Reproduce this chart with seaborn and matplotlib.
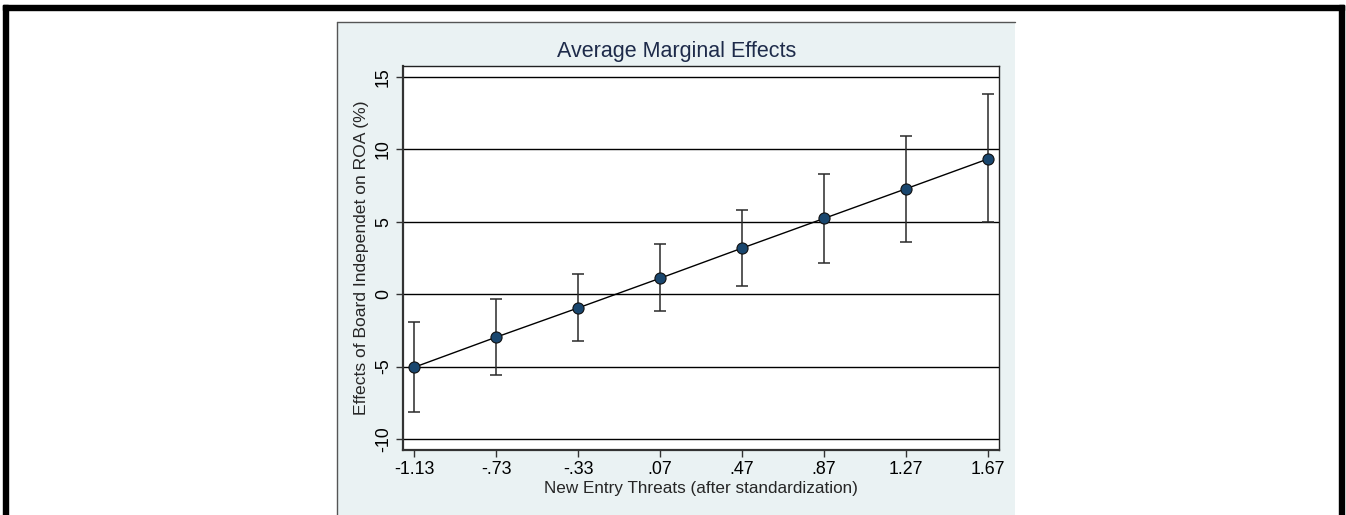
import seaborn as sns
import pandas as pd
import matplotlib.pyplot as plt
from matplotlib.patches import Rectangle
from matplotlib.lines import Line2D

# values
threat_levels = [-1.13, -0.73, -0.33, 0.07, 0.47, 0.87, 1.27, 1.67]
tick_labels = ["-1.13", "-.73", "-.33", ".07", ".47", ".87", "1.27", "1.67"]
effects = [-5.05, -2.97, -0.95, 1.10, 3.18, 5.23, 7.28, 9.34]
ci_low = [-8.14, -5.60, -3.23, -1.18, 0.60, 2.14, 3.60, 5.00]
ci_high = [-1.94, -0.35, 1.38, 3.44, 5.81, 8.32, 10.95, 13.80]
y_ticks = [-10, -5, 0, 5, 10, 15]

df = pd.DataFrame({"threat": threat_levels, "effect": effects,
                   "lo": ci_low, "hi": ci_high})

sns.set_style("white")
plt.rcParams["font.family"] = ["Liberation Sans", "DejaVu Sans"]

W, H = 1346, 515
fig = plt.figure(figsize=(W / 100, H / 100), dpi=100)
fig.patch.set_facecolor("white")

# outer black frame (top, left, right)
fig.add_artist(Rectangle((3 / W, 1 - 10 / H), (1344 - 3) / W, 5 / H,
                         transform=fig.transFigure, color="black", zorder=0))
fig.add_artist(Rectangle((3 / W, 0), 5 / W, 1 - 5 / H,
                         transform=fig.transFigure, color="black", zorder=0))
fig.add_artist(Rectangle((1339 / W, 0), 5 / W, 1 - 5 / H,
                         transform=fig.transFigure, color="black", zorder=0))

# light blue graph region
fig.add_artist(Rectangle((337 / W, 0), (1015 - 337) / W, 1 - 22 / H,
                         transform=fig.transFigure, facecolor="#eaf2f3",
                         edgecolor="none", zorder=0))
fig.add_artist(Line2D([337 / W, 1015 / W], [1 - 22 / H, 1 - 22 / H],
                      transform=fig.transFigure, color="#555555", lw=1))
fig.add_artist(Line2D([337 / W, 337 / W], [0, 1 - 22 / H],
                      transform=fig.transFigure, color="#555555", lw=1))

ax = fig.add_axes([403 / W, 1 - 450 / H, (999 - 403) / W, (450 - 66) / H])
ax.set_facecolor("white")

for yv in y_ticks:
    ax.axhline(yv, color="black", lw=1, zorder=1)

ax.errorbar(df["threat"], df["effect"],
            yerr=[df["effect"] - df["lo"], df["hi"] - df["effect"]],
            fmt="none", ecolor="#2a2a2a", elinewidth=1.1, capsize=4,
            capthick=1.1, zorder=2)

sns.lineplot(data=df, x="threat", y="effect", ax=ax, color="black", lw=1,
             marker="o", markersize=8, markerfacecolor="#1a476f",
             markeredgecolor="#111111", markeredgewidth=0.8, zorder=3)

ax.set_xlim(-1.184, 1.724)
ax.set_ylim(-10.76, 15.76)
ax.set_xticks(threat_levels)
ax.set_xticklabels(tick_labels)
ax.set_yticks(y_ticks)
ax.set_yticklabels([str(v) for v in y_ticks], rotation=90, va="center")

ax.tick_params(axis="both", direction="out", length=5, width=1,
               color="#333333", labelsize=12.8, labelcolor="black", pad=3,
               left=True, bottom=True)
for side in ["top", "right"]:
    ax.spines[side].set_color("#222222")
    ax.spines[side].set_linewidth(1)
for side in ["left", "bottom"]:
    ax.spines[side].set_color("#333333")
    ax.spines[side].set_linewidth(1.6)

ax.set_xlabel("New Entry Threats (after standardization)", fontsize=12.3,
              labelpad=2)
ax.set_ylabel("Effects of Board Independet on ROA (%)", fontsize=12.6,
              labelpad=4)
fig.text(677 / W, 1 - 52 / H, "Average Marginal Effects", ha="center",
         va="center", fontsize=15.5, color="#1e2b4a")

fig.savefig("out.png", dpi=100)
